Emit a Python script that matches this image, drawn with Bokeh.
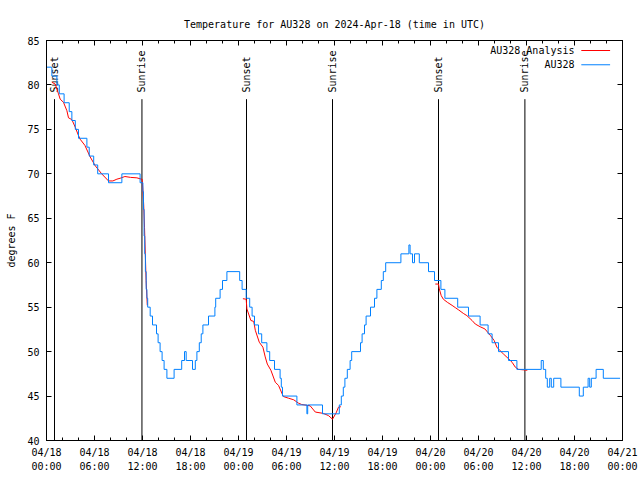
from bokeh.plotting import figure
from bokeh.models import Range1d, LinearAxis, FixedTicker
from bokeh.core.properties import value
from bokeh.embed import file_html
from bokeh.resources import INLINE
import math

FONT = "DejaVu Sans Mono"
RED = "#ff0000"
BLUE = "#0080ff"

title_text = "Temperature for AU328 on 2024-Apr-18 (time in UTC)"
y_label = "degrees F"

# hours since 2024-04-18 00:00 UTC
x_ticks = [0, 6, 12, 18, 24, 30, 36, 42, 48, 54, 60, 66, 72]
x_tick_labels = ["04/18\n00:00", "04/18\n06:00", "04/18\n12:00", "04/18\n18:00",
                 "04/19\n00:00", "04/19\n06:00", "04/19\n12:00", "04/19\n18:00",
                 "04/20\n00:00", "04/20\n06:00", "04/20\n12:00", "04/20\n18:00",
                 "04/21\n00:00"]
x_minor = list(range(0, 73, 2))
y_ticks = [40, 45, 50, 55, 60, 65, 70, 75, 80, 85]

# AU328 observations (step changes: hour, degF)
obs_h = [0.0, 0.67, 1.3, 1.6, 2.2, 2.84, 3.17, 3.6, 4.0, 5.05, 5.34, 5.9, 6.4, 7.75,
         9.42, 11.7, 12.05, 12.12, 12.2, 12.28, 12.36, 12.46, 12.55, 12.65, 12.96,
         13.25, 13.75, 13.95, 14.2, 14.45, 14.7, 15.05, 15.95, 16.9, 17.25, 17.46,
         18.25, 18.6, 18.8, 19.1, 19.34, 19.55, 20.25, 21.05, 21.15, 21.7, 22.0,
         22.55, 24.15, 24.45, 24.96, 25.4, 25.7, 26.0, 26.5, 26.9, 27.55, 27.9,
         28.5, 29.2, 29.35, 29.5, 31.3, 32.55, 32.65, 34.5, 36.6, 36.85, 37.1,
         37.3, 37.6, 37.95, 38.15, 39.25, 39.45, 39.75, 39.95, 40.5, 41.0, 41.3,
         41.85, 42.1, 42.4, 44.3, 45.3, 45.45, 45.75, 46.0, 46.6, 47.75, 48.5,
         49.3, 49.8, 51.4, 52.75, 54.2, 55.2, 55.7, 56.5, 57.75, 58.8, 61.84,
         62.1, 62.4, 62.6, 62.9, 63.1, 63.4, 64.3, 66.6, 67.1, 67.7, 67.9, 68.1,
         68.7, 69.6, 71.7]
obs_t = [82, 81, 80, 79, 78, 77, 76, 75, 74, 73, 72, 71, 70, 69,
         70, 69, 68, 66, 63, 61, 59, 57, 56, 55, 54,
         53, 52, 51, 50, 49, 48, 47, 48, 49, 50, 49,
         48, 49, 50, 51, 52, 53, 54, 55, 56, 57, 58,
         59, 58, 57, 56, 55, 54, 53, 52, 51, 50, 49,
         48, 47, 46, 45, 44, 43, 44, 43, 44, 45, 46,
         47, 48, 49, 50, 51, 52, 53, 54, 55, 56, 57,
         58, 59, 60, 61, 62, 61, 60, 61, 60, 59, 58,
         57, 56, 55, 54, 53, 52, 51, 50, 49, 48, 49,
         48, 47, 46, 47, 46, 47, 46, 45, 46, 47, 46, 47,
         48, 47, 47]

# AU328 Analysis (night-time segments)
ana1_h = [0.67, 1.09, 1.5, 1.71, 2.12, 2.55, 2.75, 3.17, 3.59, 4.0, 4.2, 4.8, 5.46,
          6.1, 6.9, 7.75, 8.3, 8.8, 9.2, 9.8, 10.5, 11.3, 11.85, 11.95, 12.05,
          12.15, 12.25, 12.35, 12.45, 12.6]
ana1_t = [80.3, 80.1, 79.0, 78.4, 78.05, 77.1, 76.3, 76.1, 75.25, 74.3, 73.9, 73.2,
          71.9, 70.9, 70.0, 69.2, 69.2, 69.4, 69.5, 69.7, 69.6, 69.55, 69.4, 69.4,
          68.2, 66.5, 64.0, 61.0, 58.0, 55.2]
ana2_h = [24.55, 24.96, 25.05, 25.55, 25.9, 26.1, 26.6, 27.05, 27.34, 27.6, 28.05,
          28.6, 29.0, 29.6, 30.25, 30.9, 31.5, 31.9, 32.96, 33.6, 34.6, 35.25,
          35.75, 36.2, 36.5, 36.8]
ana2_t = [55.95, 55.9, 54.8, 53.5, 53.4, 52.4, 51.05, 50.5, 49.4, 48.6, 47.9, 46.55,
          46.2, 44.95, 44.76, 44.58, 44.2, 44.05, 43.9, 43.2, 43.05, 42.8, 42.4,
          43.1, 43.75, 43.8]
ana3_h = [48.6, 49.0, 49.1, 49.34, 49.6, 50.1, 50.7, 51.1, 51.5, 52.1, 52.55, 53.2,
          53.6, 54.2, 54.8, 55.5, 55.96, 56.3, 56.7, 57.1, 57.75, 58.2, 58.6, 59.0,
          59.6, 60.1]
ana3_t = [57.6, 57.6, 57.05, 56.3, 55.9, 55.55, 55.2, 54.95, 54.7, 54.3, 54.05, 53.5,
          53.1, 52.8, 52.55, 51.8, 51.25, 50.5, 50.1, 49.75, 49.2, 48.8, 48.25, 48.0,
          47.95, 47.9]

sun_h = [1.0, 11.93, 25.0, 35.75, 49.0, 59.8]
sun_labels = ["Sunset", "Sunrise", "Sunset", "Sunrise", "Sunset", "Sunrise"]

legend_labels = ["AU328 Analysis", "AU328"]
legend_colors = [RED, BLUE]

p = figure(width=640, height=480, output_backend="svg", toolbar_location=None,
           x_range=Range1d(0, 72), y_range=Range1d(40, 85),
           x_axis_location=None, y_axis_location=None,
           min_border_left=46, min_border_right=18, min_border_top=40,
           min_border_bottom=40, background_fill_color="white",
           border_fill_color="white")
p.grid.visible = False
p.outline_line_color = "black"
p.outline_line_width = 1

p.title.text = title_text
p.title.align = "center"
p.title.text_font = FONT
p.title.text_font_size = "10px"
p.title.text_font_style = "normal"
p.title.text_color = "black"
p.title.standoff = 21


def make_axis(ticks, minor, labels, show_labels, axis_label=None):
    ax = LinearAxis(ticker=FixedTicker(ticks=ticks, minor_ticks=minor))
    ax.axis_line_color = "black"
    ax.major_tick_line_color = "black"
    ax.minor_tick_line_color = "black" if minor else None
    ax.major_tick_in = 5
    ax.major_tick_out = 0
    ax.minor_tick_in = 3
    ax.minor_tick_out = 0
    if show_labels:
        ax.major_label_text_font = FONT
        ax.major_label_text_font_size = "10px"
        ax.major_label_text_color = "black"
        if labels:
            ax.major_label_overrides = labels
    else:
        ax.major_label_text_font_size = "1px"
        ax.major_label_text_color = None
        ax.major_label_standoff = 0
    if axis_label:
        ax.axis_label = axis_label
        ax.axis_label_text_font = FONT
        ax.axis_label_text_font_size = "10px"
        ax.axis_label_text_font_style = "normal"
        ax.axis_label_text_color = "black"
        ax.axis_label_standoff = 7
    return ax


xlab = {t: l for t, l in zip(x_ticks, x_tick_labels)}
bottom = make_axis(x_ticks, x_minor, xlab, True)
bottom.major_label_standoff = 6
bottom.major_label_text_line_height = 1.3
top = make_axis(x_ticks, x_minor, None, False)
ylab = {t: str(t) for t in y_ticks}
left = make_axis(y_ticks, [], ylab, True, y_label)
left.major_label_standoff = 7
right = make_axis(y_ticks, [], None, False)

p.add_layout(bottom, "below")
p.add_layout(left, "left")
p.add_layout(top, "above")
p.add_layout(right, "right")

# sunrise / sunset markers
p.segment(x0=sun_h, x1=sun_h, y0=[40] * len(sun_h), y1=[78.4] * len(sun_h),
          line_color="black", line_width=1)
p.text(x=sun_h, y=[79.15] * len(sun_h), text=sun_labels, angle=math.pi / 2,
       text_align="left", text_baseline="middle", text_font=value(FONT),
       text_font_size="10px", text_color="black")

# analysis (red)
for hh, tt in ((ana1_h, ana1_t), (ana2_h, ana2_t), (ana3_h, ana3_t)):
    p.line(hh, tt, line_color=RED, line_width=1)

# observations (blue)
p.step(obs_h, obs_t, mode="after", line_color=BLUE, line_width=1)

# legend (label then line sample, gnuplot style)
leg_y = [83.875, 82.27]
p.text(x=[66.0, 66.0], y=leg_y, text=legend_labels, text_align="right",
       text_baseline="middle", text_font=value(FONT), text_font_size="10px",
       text_color="black")
p.segment(x0=[66.85, 66.85], x1=[70.45, 70.45], y0=leg_y, y1=leg_y,
          line_color=legend_colors, line_width=1)

open("out.html", "w").write(file_html(p, INLINE))
